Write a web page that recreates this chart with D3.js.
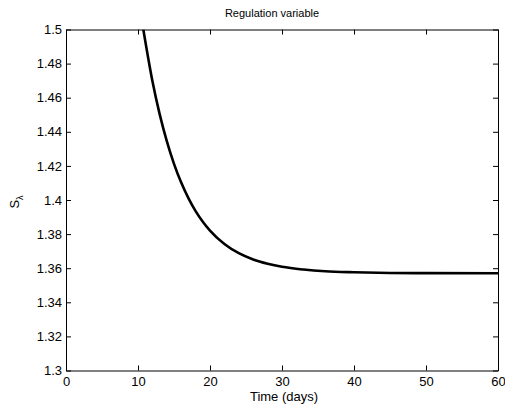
<!DOCTYPE html>
<html>
<head>
<meta charset="utf-8">
<script src="https://cdn.jsdelivr.net/npm/d3@7"></script>
<style>
  body { margin: 0; background: #fff; }
  svg { display: block; font-family: "Liberation Sans", Arial, sans-serif; }
  .axis path, .axis line { stroke: #000; }
  .axis text { fill: #000; font-size: 13px; }
</style>
</head>
<body>
<svg id="chart" width="505" height="408"></svg>
<script>
// values (time in days, regulation variable S_lambda)
var days   = [10.74, 12, 13, 14, 15, 16, 17, 18, 19, 20, 22, 24, 26, 28, 30, 33, 36, 40, 45, 50, 60];
var sLambda = [1.500, 1.4698, 1.4505, 1.4345, 1.4212, 1.4102, 1.4011, 1.3935, 1.3873, 1.3821,
               1.3742, 1.3688, 1.3651, 1.3626, 1.3608, 1.3592, 1.3582, 1.3576, 1.3572, 1.3571, 1.3570];

var xTicks = [0, 10, 20, 30, 40, 50, 60];
var xTickLabels = ["0", "10", "20", "30", "40", "50", "60"];
var yTicks = [1.3, 1.32, 1.34, 1.36, 1.38, 1.4, 1.42, 1.44, 1.46, 1.48, 1.5];
var yTickLabels = ["1.3", "1.32", "1.34", "1.36", "1.38", "1.4", "1.42", "1.44", "1.46", "1.48", "1.5"];

var titleText = "Regulation variable";
var xLabelText = "Time (days)";

var svg = d3.select("#chart");
// note: can't call it "top", window.top is read-only
var box = { left: 66, right: 498, top: 29.5, bottom: 370.5 };

var x = d3.scaleLinear().domain([0, 60]).range([box.left, box.right]);
var y = d3.scaleLinear().domain([1.3, 1.5]).range([box.bottom, box.top]);

svg.append("rect").attr("width", 505).attr("height", 408).attr("fill", "#fff");

// clip so the curve stays in the box
svg.append("clipPath").attr("id", "clip")
  .append("rect")
  .attr("x", box.left).attr("y", box.top)
  .attr("width", box.right - box.left).attr("height", box.bottom - box.top);

var data = days.map(function(d, i) { return { t: d, v: sLambda[i] }; });

var line = d3.line()
  .x(function(d) { return x(d.t); })
  .y(function(d) { return y(d.v); })
  .curve(d3.curveMonotoneX);

svg.append("path")
  .datum(data)
  .attr("clip-path", "url(#clip)")
  .attr("fill", "none")
  .attr("stroke", "#000")
  .attr("stroke-width", 2.6)
  .attr("d", line);

// axes, ticks pointing inward like matlab
function fmt(labels, ticks) {
  return function(d) { return labels[ticks.indexOf(d)]; };
}

svg.append("g")
  .attr("class", "axis")
  .attr("transform", "translate(0," + box.bottom + ")")
  .call(d3.axisBottom(x).tickValues(xTicks).tickFormat(fmt(xTickLabels, xTicks))
    .tickSizeInner(-5).tickSizeOuter(0).tickPadding(6));

svg.append("g")
  .attr("class", "axis")
  .attr("transform", "translate(" + box.left + ",0)")
  .call(d3.axisLeft(y).tickValues(yTicks).tickFormat(fmt(yTickLabels, yTicks))
    .tickSizeInner(-5).tickSizeOuter(0).tickPadding(4));

// mirrored top / right
svg.append("g")
  .attr("class", "axis")
  .attr("transform", "translate(0," + box.top + ")")
  .call(d3.axisTop(x).tickValues(xTicks).tickFormat("")
    .tickSizeInner(-5).tickSizeOuter(0));

svg.append("g")
  .attr("class", "axis")
  .attr("transform", "translate(" + box.right + ",0)")
  .call(d3.axisRight(y).tickValues(yTicks).tickFormat("")
    .tickSizeInner(-5).tickSizeOuter(0));

// title and labels
svg.append("text")
  .attr("x", 272).attr("y", 17)
  .attr("text-anchor", "middle")
  .attr("font-size", 11)
  .text(titleText);

svg.append("text")
  .attr("x", 284).attr("y", 401)
  .attr("text-anchor", "middle")
  .attr("font-size", 13)
  .text(xLabelText);

var yl = svg.append("text")
  .attr("transform", "translate(19,202) rotate(-90)")
  .attr("text-anchor", "middle")
  .attr("font-size", 13);
yl.append("tspan").text("S");
yl.append("tspan").attr("dy", 4).attr("font-size", 9).text("λ");
</script>
</body>
</html>
